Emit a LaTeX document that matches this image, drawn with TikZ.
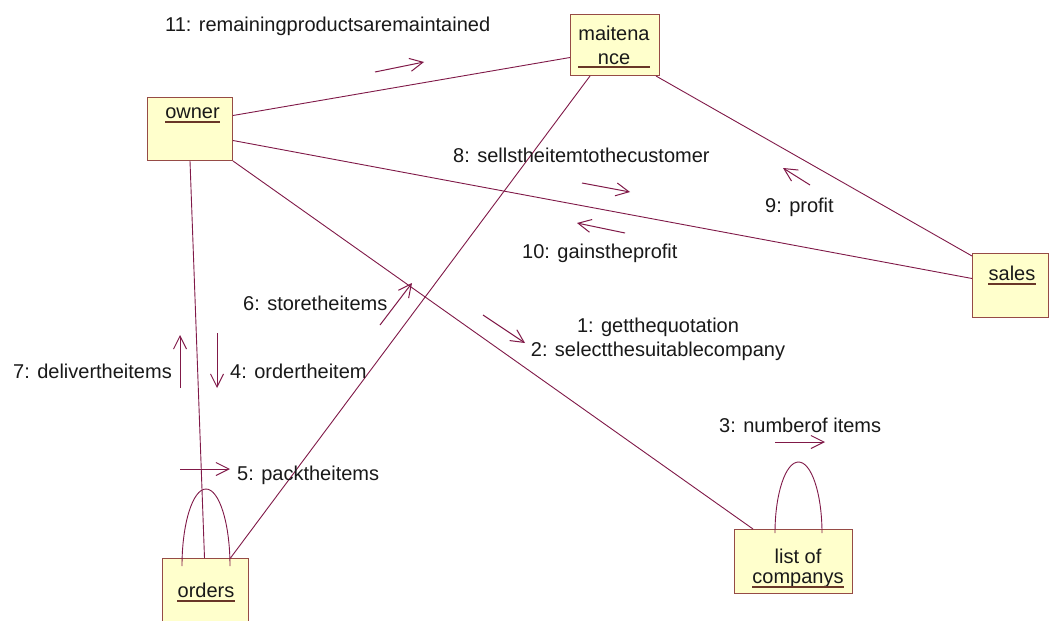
\documentclass[tikz,border=0pt]{standalone}
\usepackage{fontspec}
\setmainfont{Liberation Sans}
\usetikzlibrary{arrows.meta}
\definecolor{linkcol}{RGB}{128,25,72}
\definecolor{boxline}{RGB}{150,75,70}
\definecolor{boxfill}{RGB}{255,255,204}
\definecolor{ulcol}{RGB}{105,55,40}
\begin{document}
\begin{tikzpicture}[x=1pt,y=-1pt,
  txt/.style={font=\fontsize{20}{24}\selectfont, inner sep=0pt, text=black!90},
  obj/.style={draw=boxline, fill=boxfill, line width=1pt, anchor=north west, inner sep=0pt},
  link/.style={draw=linkcol, line width=0.9pt},
  msg/.style={draw=linkcol, line width=1pt, -{Straight Barb[length=13pt,width=13pt,line width=1pt]}},
  uline/.style={draw=ulcol, line width=1.2pt}
]
\useasboundingbox (0,0) rectangle (1052,621);
\fill[white] (0,0) rectangle (1052,621);

% objects
\node[obj, minimum width=85pt, minimum height=63pt] (owner) at (147,97) {};
\node[obj, minimum width=89pt, minimum height=61pt] (maint) at (570,14) {};
\node[obj, minimum width=76pt, minimum height=64pt] (sales) at (972,253) {};
\node[obj, minimum width=86pt, minimum height=68pt] (orders) at (162,558) {};
\node[obj, minimum width=118pt, minimum height=64pt] (list) at (734,529) {};

% object names, underlined
\node[txt, anchor=base] (ownerlbl) at (192.5,118) {owner};
\draw[uline] ([yshift=-4pt]ownerlbl.base west) -- ([yshift=-4pt]ownerlbl.base east);
\node[txt, anchor=base] (maintlblA) at (614,40) {maitena};
\node[txt, anchor=base] (maintlblB) at (614,64) {nce};
\draw[uline] ([yshift=-3pt]maintlblA.base west |- maintlblB.base) -- ([yshift=-3pt]maintlblA.base east |- maintlblB.base);
\node[txt, anchor=base] (saleslbl) at (1012,280) {sales};
\draw[uline] ([yshift=-4pt]saleslbl.base west) -- ([yshift=-4pt]saleslbl.base east);
\node[txt, anchor=base] (orderslbl) at (206,597) {orders};
\draw[uline] ([yshift=-4pt]orderslbl.base west) -- ([yshift=-4pt]orderslbl.base east);
\node[txt, anchor=base] (listlblA) at (798,563) {list of};
\node[txt, anchor=base] (listlblB) at (798,583) {companys};
\draw[uline] ([yshift=-4pt]listlblB.base west) -- ([yshift=-4pt]listlblB.base east);

% links
\draw[link] ([yshift=13.5pt]owner.east) -- ([yshift=-12.5pt]maint.west);
\draw[link] ([yshift=-11.5pt]owner.east) -- ([yshift=7pt]sales.west);
\draw[link] (owner.south east) -- ([xshift=19pt]list.north west);
\draw[link] (owner.south) -- ([xshift=-1pt]orders.north);
\draw[link] ([xshift=25pt]orders.north) -- ([xshift=20pt]maint.south west);
\draw[link] ([xshift=-4pt]maint.south east) -- ([yshift=-3pt]sales.north west);

% self links
\draw[link] (182,566) arc[start angle=180, end angle=360, x radius=24, y radius=77];
\draw[link] (775,533) arc[start angle=180, end angle=360, x radius=23.5, y radius=71];

% messages
\draw[msg] (375,72) -- (424,62);
\node[txt, anchor=base west] (m11) at (165,31) {11: remainingproductsaremaintained};
\draw[msg] (582,183) -- (630,192);
\node[txt, anchor=base west] (m8) at (453,162) {8: sellstheitemtothecustomer};
\draw[msg] (810,185) -- (783,168);
\node[txt, anchor=base west] (m9) at (765,212) {9: profit};
\draw[msg] (625,233) -- (577,223);
\node[txt, anchor=base west] (m10) at (522,258) {10: gainstheprofit};
\draw[msg] (380,325) -- (412,283);
\node[txt, anchor=base west] (m6) at (243,310) {6: storetheitems};
\draw[msg] (483,315) -- (525,343);
\node[txt, anchor=base] (m1) at (658,332) {1: getthequotation};
\node[txt, anchor=base] (m2) at (658,356) {2: selectthesuitablecompany};
\draw[msg] (180,388) -- (180,335);
\node[txt, anchor=base west] (m7) at (13,378) {7: delivertheitems};
\draw[msg] (217,333) -- (217,388);
\node[txt, anchor=base west] (m4) at (230,378) {4: ordertheitem};
\draw[msg] (180,469) -- (230,469);
\node[txt, anchor=base west] (m5) at (237,480) {5: packtheitems};
\draw[msg] (775,442) -- (825,442);
\node[txt, anchor=base west] (m3) at (719,432) {3: numberof items};
\end{tikzpicture}
\end{document}
